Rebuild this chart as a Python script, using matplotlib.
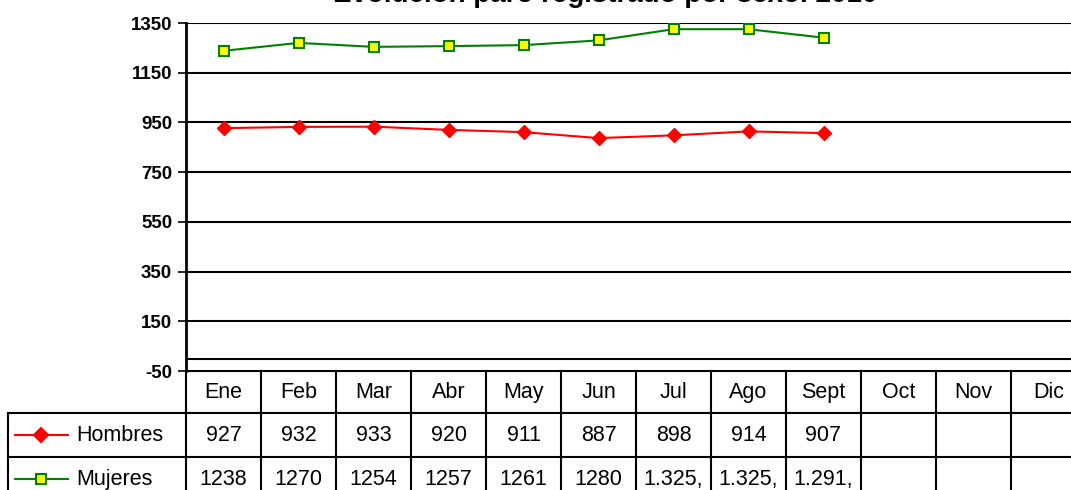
import matplotlib.pyplot as plt
import matplotlib.transforms as mtransforms
from matplotlib.lines import Line2D

# data
months = ["Ene", "Feb", "Mar", "Abr", "May", "Jun", "Jul", "Ago", "Sept", "Oct", "Nov", "Dic"]
hombres = [927, 932, 933, 920, 911, 887, 898, 914, 907]
mujeres = [1238, 1270, 1254, 1257, 1261, 1280, 1325, 1325, 1291]
hombres_txt = ["927", "932", "933", "920", "911", "887", "898", "914", "907"]
mujeres_txt = ["1238", "1270", "1254", "1257", "1261", "1280", "1.325,", "1.325,", "1.291,"]
yticks = [-50, 150, 350, 550, 750, 950, 1150, 1350]

W, H = 1071, 490
plt.rcParams['font.family'] = ['Liberation Sans', 'DejaVu Sans']
fig = plt.figure(figsize=(W / 100, H / 100), dpi=100)

def fy(py):
    return 1 - py / H

def fx(px):
    return px / W

# plot area (runs past the right edge like the original)
ax = fig.add_axes([fx(186), fy(371), fx(900), 348 / H])
ax.set_xlim(-0.5, 11.5)
ax.set_ylim(-50, 1350)
ax.set_yticks(yticks)
ax.set_yticklabels([str(v) for v in yticks], fontweight="bold", fontsize=13.5)
ax.tick_params(axis="y", length=6, width=1.2, pad=4)
ax.set_xticks([])
for s in ["top", "right"]:
    ax.spines[s].set_visible(False)
ax.spines["left"].set_linewidth(2)
ax.spines["bottom"].set_linewidth(1.5)
for v in yticks[1:]:
    ax.axhline(v, color="black", lw=1.5, zorder=1)
ax.axhline(0, color="black", lw=1.5, zorder=1)

x = list(range(len(hombres)))
ax.plot(x, hombres, color="red", lw=1.5, marker="D", ms=7.5,
        mfc="red", mec="red", zorder=3, clip_on=False)
ax.plot(x, mujeres, color="#008000", lw=1.5, marker="s", ms=7.5,
        mfc="yellow", mec="#008000", mew=1.5, zorder=3, clip_on=False)

# title sits mostly above the visible area, as in the original
fig.text(fx(605), fy(2.5), "Evolución paro registrado por sexo. 2010",
         ha="center", va="baseline", fontsize=20, fontweight="bold")

# data table under the chart
tr = mtransforms.blended_transform_factory(ax.transData, fig.transFigure)
ft = fig.transFigure
row_top = [371, 413, 457]
row_bot = [413, 457, 501]
lw = 1.5

for k in range(13):
    xb = -0.5 + k
    ax.add_line(Line2D([xb, xb], [fy(371), fy(H + 20)], transform=tr,
                       color="black", lw=lw, clip_on=False))
for py in [413, 457]:
    fig.add_artist(Line2D([fx(8), fx(W + 20)], [fy(py), fy(py)], transform=ft,
                          color="black", lw=lw))
fig.add_artist(Line2D([fx(8), fx(8)], [fy(413), fy(H + 20)], transform=ft,
                      color="black", lw=lw))

for i, m in enumerate(months):
    ax.text(i, fy((row_top[0] + row_bot[0]) / 2), m, transform=tr,
            ha="center", va="center", fontsize=15.5, clip_on=False)
for i, t in enumerate(hombres_txt):
    ax.text(i, fy((row_top[1] + row_bot[1]) / 2), t, transform=tr,
            ha="center", va="center", fontsize=15.5, clip_on=False)
for i, t in enumerate(mujeres_txt):
    ax.text(i, fy((row_top[2] + row_bot[2]) / 2), t, transform=tr,
            ha="center", va="center", fontsize=15.5, clip_on=False)

# legend keys in the row headers
for r, (name, col, mk, fc) in enumerate([("Hombres", "red", "D", "red"),
                                         ("Mujeres", "#008000", "s", "yellow")]):
    yc = fy((row_top[r + 1] + row_bot[r + 1]) / 2)
    fig.add_artist(Line2D([fx(15), fx(68)], [yc, yc], transform=ft, color=col, lw=1.5))
    fig.add_artist(Line2D([fx(41)], [yc], transform=ft, marker=mk, ms=7.5,
                          mfc=fc, mec=col, mew=1.5))
    fig.text(fx(76), yc, name, ha="left", va="center", fontsize=15.5)

fig.savefig("out.png", dpi=100)
